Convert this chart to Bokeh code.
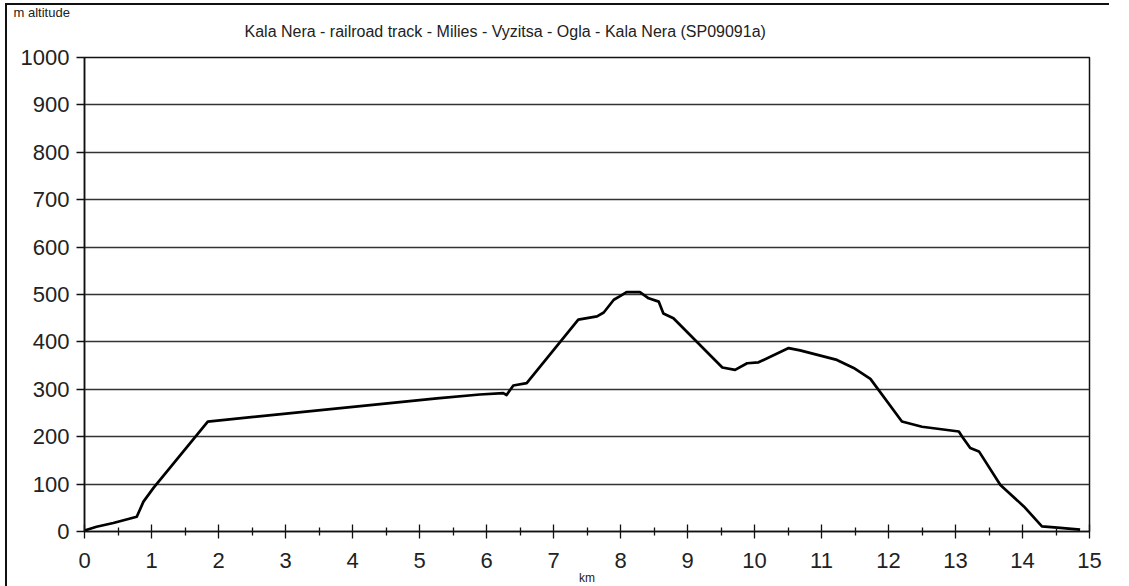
from bokeh.plotting import figure
from bokeh.models import FixedTicker, Title
from bokeh.embed import file_html
from bokeh.resources import INLINE

km = [0, 0.18, 0.43, 0.78, 0.88, 1.03, 1.84, 5.26, 5.9, 6.25, 6.3, 6.4, 6.6,
      7.37, 7.65, 7.75, 7.9, 8.0, 8.09, 8.29, 8.42, 8.57, 8.64, 8.79,
      9.52, 9.71, 9.89, 10.06, 10.51, 10.68, 11.23, 11.48, 11.73,
      12.2, 12.5, 13.05, 13.1, 13.22, 13.35, 13.67, 14.02, 14.29, 14.52, 14.86]
altitude = [2, 10, 18, 31, 63, 92, 232, 281, 289, 292, 288, 308, 313,
            447, 454, 462, 489, 497, 505, 505, 492, 485, 460, 450,
            346, 341, 355, 357, 387, 382, 362, 345, 322,
            232, 221, 211, 200, 176, 169, 98, 53, 11, 8, 4]

x_ticks = list(range(0, 16))
x_minor = [i + 0.5 for i in range(0, 15)]
y_ticks = list(range(0, 1001, 100))

title_text = "Kala Nera - railroad track - Milies - Vyzitsa - Ogla - Kala Nera (SP09091a)"
y_title = "m altitude"
x_title = "km"

FONT = "Liberation Sans"

p = figure(frame_width=1005, frame_height=474, x_range=(0, 15), y_range=(0, 1000),
           output_backend="svg", toolbar_location=None,
           min_border_left=77, min_border_top=10, min_border_right=20, min_border_bottom=0)
p.styles = {"border-left": "2px solid #111", "border-top": "2px solid #111",
            "margin-left": "5px", "margin-top": "3px"}

p.background_fill_color = "white"
p.border_fill_color = "white"
p.outline_line_color = "#111"
p.outline_line_width = 1.5

# outer caption (y unit) as the figure title (outermost)
p.title.text = y_title
p.title.align = "left"
p.title.offset = -71
p.title.text_font = FONT
p.title.text_font_size = "13px"
p.title.text_font_style = "normal"
p.title.text_color = "#222"
p.title.standoff = -5
# blank spacer between the frame and the main title
p.add_layout(Title(text="\u00a0", text_color="white", text_font=FONT, text_font_size="10px",
                   standoff=1), "above")
# main title
p.add_layout(Title(text=title_text, align="left", offset=160,
                   text_font=FONT, text_font_size="16px", text_font_style="normal",
                   text_color="#222", standoff=7), "above")

# grid
p.xgrid.visible = False
p.ygrid.ticker = FixedTicker(ticks=y_ticks)
p.ygrid.grid_line_color = "#333"
p.ygrid.grid_line_width = 1.3

# x axis
p.xaxis.ticker = FixedTicker(ticks=x_ticks, minor_ticks=x_minor)
p.xaxis.axis_line_color = "#111"
p.xaxis.axis_line_width = 1.5
p.xaxis.major_tick_in = 7
p.xaxis.major_tick_out = 7
p.xaxis.minor_tick_in = 4
p.xaxis.minor_tick_out = 4
p.xaxis.major_tick_line_color = "#111"
p.xaxis.minor_tick_line_color = "#111"
p.xaxis.major_tick_line_width = 1.3
p.xaxis.minor_tick_line_width = 1.3
p.xaxis.major_label_text_font = FONT
p.xaxis.major_label_text_font_size = "22px"
p.xaxis.major_label_text_color = "#222"
p.xaxis.major_label_standoff = 14
p.xaxis.axis_label = x_title
p.xaxis.axis_label_text_font = FONT
p.xaxis.axis_label_text_font_size = "12px"
p.xaxis.axis_label_text_font_style = "normal"
p.xaxis.axis_label_text_color = "#222"
p.xaxis.axis_label_standoff = 0

# y axis
p.yaxis.ticker = FixedTicker(ticks=y_ticks)
p.yaxis.axis_line_color = "#111"
p.yaxis.axis_line_width = 1.5
p.yaxis.major_tick_in = 0
p.yaxis.major_tick_out = 8
p.yaxis.minor_tick_line_color = None
p.yaxis.major_tick_line_color = "#111"
p.yaxis.major_tick_line_width = 1.3
p.yaxis.major_label_text_font = FONT
p.yaxis.major_label_text_font_size = "22px"
p.yaxis.major_label_text_color = "#222"
p.yaxis.major_label_standoff = 7

# profile line
p.line(km, altitude, line_color="black", line_width=2.7, line_join="round")

open("out.html", "w").write(file_html(p, INLINE))
